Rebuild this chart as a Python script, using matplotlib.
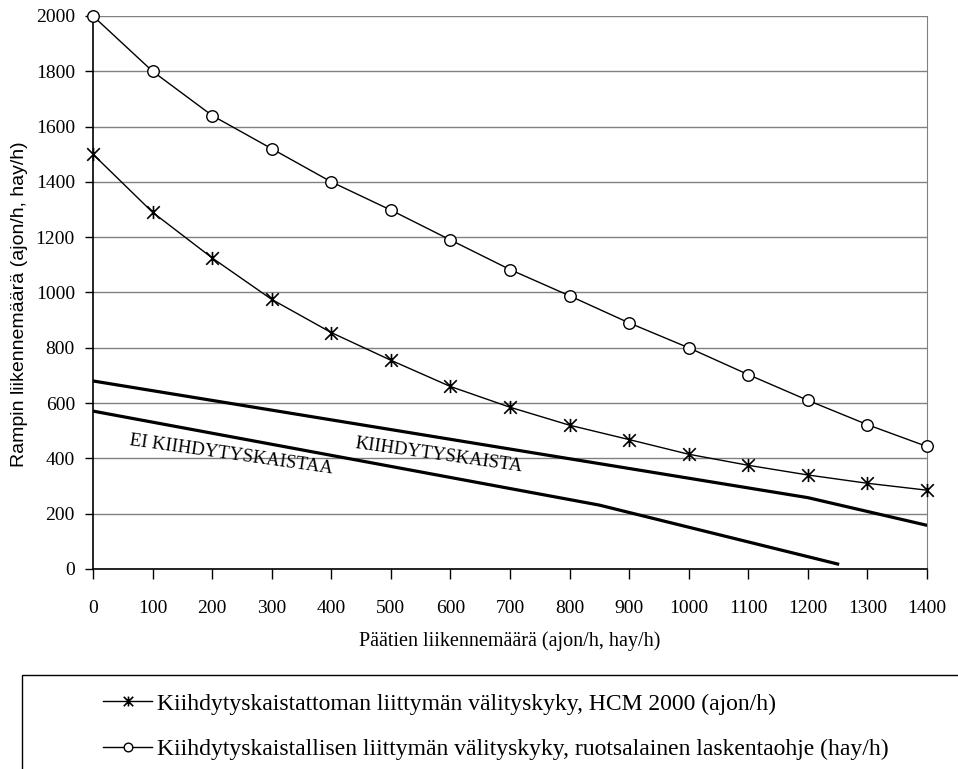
import numpy as np
import matplotlib.pyplot as plt
from matplotlib.path import Path
from matplotlib.patches import Rectangle

paatie = [0, 100, 200, 300, 400, 500, 600, 700, 800, 900, 1000, 1100, 1200, 1300, 1400]
hcm2000 = [1500, 1290, 1125, 975, 855, 755, 660, 585, 520, 468, 415, 375, 340, 310, 285]
ruotsi = [2000, 1800, 1640, 1520, 1400, 1298, 1190, 1083, 988, 890, 800, 703, 610, 522, 443]

# rajaviivat
raja_ylä_x = [0, 1200, 1400]
raja_ylä_y = [680, 258, 158]
raja_ala_x = [0, 850, 1250]
raja_ala_y = [571, 231, 18]

selite_hcm = 'Kiihdytyskaistattoman liittymän välityskyky, HCM 2000 (ajon/h)'
selite_ruotsi = 'Kiihdytyskaistallisen liittymän välityskyky, ruotsalainen laskentaohje (hay/h)'

serif = ['Liberation Serif', 'DejaVu Serif']
sans = ['Liberation Sans', 'DejaVu Sans']

# asteriski: x + pystyviiva
tahti = Path([(-1, -1), (1, 1), (-1, 1), (1, -1), (0, -1.05), (0, 1.05)],
             [Path.MOVETO, Path.LINETO, Path.MOVETO, Path.LINETO, Path.MOVETO, Path.LINETO])

fig = plt.figure(figsize=(9.58, 7.69), dpi=100)
ax = fig.add_axes([0.0971, 0.2601, 0.8705, 0.7191])

ax.plot(raja_ylä_x, raja_ylä_y, color='black', lw=2.3, solid_joinstyle='miter', zorder=3)
ax.plot(raja_ala_x, raja_ala_y, color='black', lw=2.3, solid_joinstyle='miter', zorder=3)

l1, = ax.plot(paatie, hcm2000, color='black', lw=1.0, marker=tahti, markersize=9.5,
              markeredgewidth=1.2, markerfacecolor='none', label=selite_hcm, zorder=4, clip_on=False)
l2, = ax.plot(paatie, ruotsi, color='black', lw=1.0, marker='o', markersize=8.3,
              markeredgewidth=1.0, markerfacecolor='white', label=selite_ruotsi, zorder=4, clip_on=False)

ax.text(62, 465, 'EI KIIHDYTYSKAISTAA', rotation=-8, rotation_mode='anchor',
        fontsize=13.5, family=serif, ha='left', va='center')
ax.text(440, 452, 'KIIHDYTYSKAISTA', rotation=-8, rotation_mode='anchor',
        fontsize=13.5, family=serif, ha='left', va='center')

ax.set_xlim(0, 1400)
ax.set_ylim(0, 2000)
ax.set_xticks(paatie)
ax.set_yticks(np.arange(0, 2001, 200))
ax.yaxis.grid(True, color='#808080', lw=1.0)
ax.set_axisbelow(True)
for lbl in ax.get_xticklabels() + ax.get_yticklabels():
    lbl.set_fontfamily(serif)
    lbl.set_fontsize(14)
ax.tick_params(axis='x', direction='out', length=7, width=1, pad=15)
ax.tick_params(axis='y', direction='out', length=6, width=1, pad=7)
ax.spines['top'].set_visible(False)
ax.spines['right'].set_color('#808080')
ax.spines['left'].set_linewidth(1.2)
ax.spines['bottom'].set_linewidth(1.2)

ax.set_xlabel('Päätien liikennemäärä (ajon/h, hay/h)', family=serif, fontsize=14.5)
ax.xaxis.set_label_coords(0.5, -0.112)
ax.set_ylabel('Rampin liikennemäärä (ajon/h, hay/h)', family=sans, fontsize=14)
ax.yaxis.set_label_coords(-0.078, 0.479)

fig.patches.append(Rectangle((22 / 958, -0.1), 1.0, 1 - 675 / 769 + 0.1, transform=fig.transFigure,
                             fill=False, edgecolor='black', lw=1.0))
fig.legend(handles=[l1, l2], loc='upper left', bbox_to_anchor=(103 / 958, 1 - 693 / 769),
           frameon=False, prop={'family': serif, 'size': 17}, handlelength=2.08,
           handletextpad=0.21, labelspacing=1.03, borderaxespad=0, borderpad=0, markerscale=0.75)

fig.savefig('out.png', dpi=100)
